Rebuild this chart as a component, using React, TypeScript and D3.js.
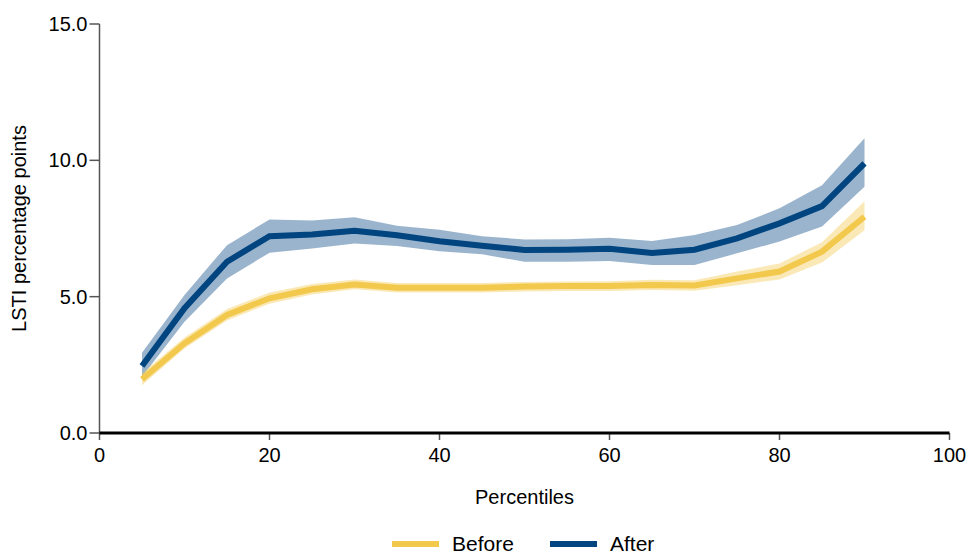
import React from "react";
import * as d3 from "d3";

// Percentile positions along the x axis
const percentiles = [5, 10, 15, 20, 25, 30, 35, 40, 45, 50, 55, 60, 65, 70, 75, 80, 85, 90];

// "Before" series: central estimate and confidence band
const beforeMid = [1.97, 3.29, 4.33, 4.94, 5.27, 5.45, 5.33, 5.33, 5.33, 5.37, 5.39, 5.39, 5.43, 5.41, 5.67, 5.92, 6.65, 7.93];
const beforeLow = [1.75, 3.1, 4.13, 4.74, 5.08, 5.27, 5.15, 5.15, 5.15, 5.19, 5.21, 5.21, 5.24, 5.22, 5.42, 5.63, 6.25, 7.44];
const beforeHigh = [2.2, 3.5, 4.55, 5.15, 5.46, 5.63, 5.5, 5.5, 5.5, 5.54, 5.56, 5.57, 5.62, 5.6, 5.92, 6.22, 7.0, 8.5];

// "After" series: central estimate and confidence band
const afterMid = [2.46, 4.58, 6.28, 7.22, 7.28, 7.42, 7.25, 7.03, 6.87, 6.71, 6.72, 6.76, 6.6, 6.72, 7.14, 7.69, 8.32, 9.89];
const afterLow = [2.06, 4.08, 5.67, 6.61, 6.77, 6.95, 6.86, 6.67, 6.56, 6.28, 6.28, 6.31, 6.16, 6.16, 6.59, 7.02, 7.57, 9.03];
const afterHigh = [2.94, 5.06, 6.89, 7.83, 7.79, 7.91, 7.6, 7.45, 7.22, 7.1, 7.11, 7.16, 7.04, 7.26, 7.63, 8.24, 9.09, 10.81];

const xTicks = [0, 20, 40, 60, 80, 100];
const yTicks = [0, 5, 10, 15];

const legendItems = ["Before", "After"];

const W = 969;
const H = 554;
const FONT = "'Liberation Sans', Arial, sans-serif";

const YELLOW = "#f2c94c";
const BLUE = "#004480";

export default function App() {
  const x = d3.scaleLinear().domain([0, 100]).range([99.5, 949.5]);
  const y = d3.scaleLinear().domain([0, 15]).range([433, 24]);

  const band = (lo: number[], hi: number[]) =>
    d3
      .area<number>()
      .x((_, i) => x(percentiles[i]))
      .y0((_, i) => y(lo[i]))
      .y1((_, i) => y(hi[i]))(percentiles as any) || "";

  const line = (vals: number[]) =>
    d3
      .line<number>()
      .x((_, i) => x(percentiles[i]))
      .y((_, i) => y(vals[i]))(percentiles as any) || "";

  const legendColors = [YELLOW, BLUE];
  const legendX = [392, 550];

  return (
    <svg
      width={W}
      height={H}
      style={{ position: "absolute", left: 0, top: 0, background: "#fff" }}
      fontFamily={FONT}
    >
      {/* confidence bands */}
      <path d={band(afterLow, afterHigh)} fill={BLUE} fillOpacity={0.4} />
      <path d={band(beforeLow, beforeHigh)} fill={YELLOW} fillOpacity={0.4} />

      {/* central estimates */}
      <path d={line(beforeMid)} fill="none" stroke={YELLOW} strokeWidth={6} />
      <path d={line(afterMid)} fill="none" stroke={BLUE} strokeWidth={6} />

      {/* y axis */}
      <line x1={x(0)} x2={x(0)} y1={y(15)} y2={y(0)} stroke="#555" strokeWidth={1.5} />
      {yTicks.map((t) => (
        <g key={t}>
          <line x1={x(0) - 10} x2={x(0)} y1={y(t)} y2={y(t)} stroke="#555" strokeWidth={1.5} />
          <text x={x(0) - 12} y={y(t)} dy="0.35em" textAnchor="end" fontSize={20} fill="#000">
            {t.toFixed(1)}
          </text>
        </g>
      ))}

      {/* x axis */}
      {xTicks.map((t) => (
        <g key={t}>
          <line x1={x(t)} x2={x(t)} y1={y(0)} y2={y(0) + 7} stroke="#555" strokeWidth={1.5} />
          <text x={x(t)} y={y(0) + 29} textAnchor="middle" fontSize={20} fill="#000">
            {t}
          </text>
        </g>
      ))}
      <line x1={x(0)} x2={x(100)} y1={y(0)} y2={y(0)} stroke="#000" strokeWidth={3} />

      {/* axis titles */}
      <text x={(x(0) + x(100)) / 2} y={504} textAnchor="middle" fontSize={20} fill="#000">
        Percentiles
      </text>
      <text
        transform={`translate(26, ${(y(0) + y(15)) / 2}) rotate(-90)`}
        textAnchor="middle"
        fontSize={20}
        fill="#000"
      >
        LSTI percentage points
      </text>

      {/* legend */}
      {legendItems.map((name, i) => (
        <g key={name} transform={`translate(${legendX[i]}, 544)`}>
          <line x1={0} x2={47} y1={0} y2={0} stroke={legendColors[i]} strokeWidth={6} />
          <text x={60} y={0} dy="0.35em" fontSize={21} fill="#000">
            {name}
          </text>
        </g>
      ))}
    </svg>
  );
}
